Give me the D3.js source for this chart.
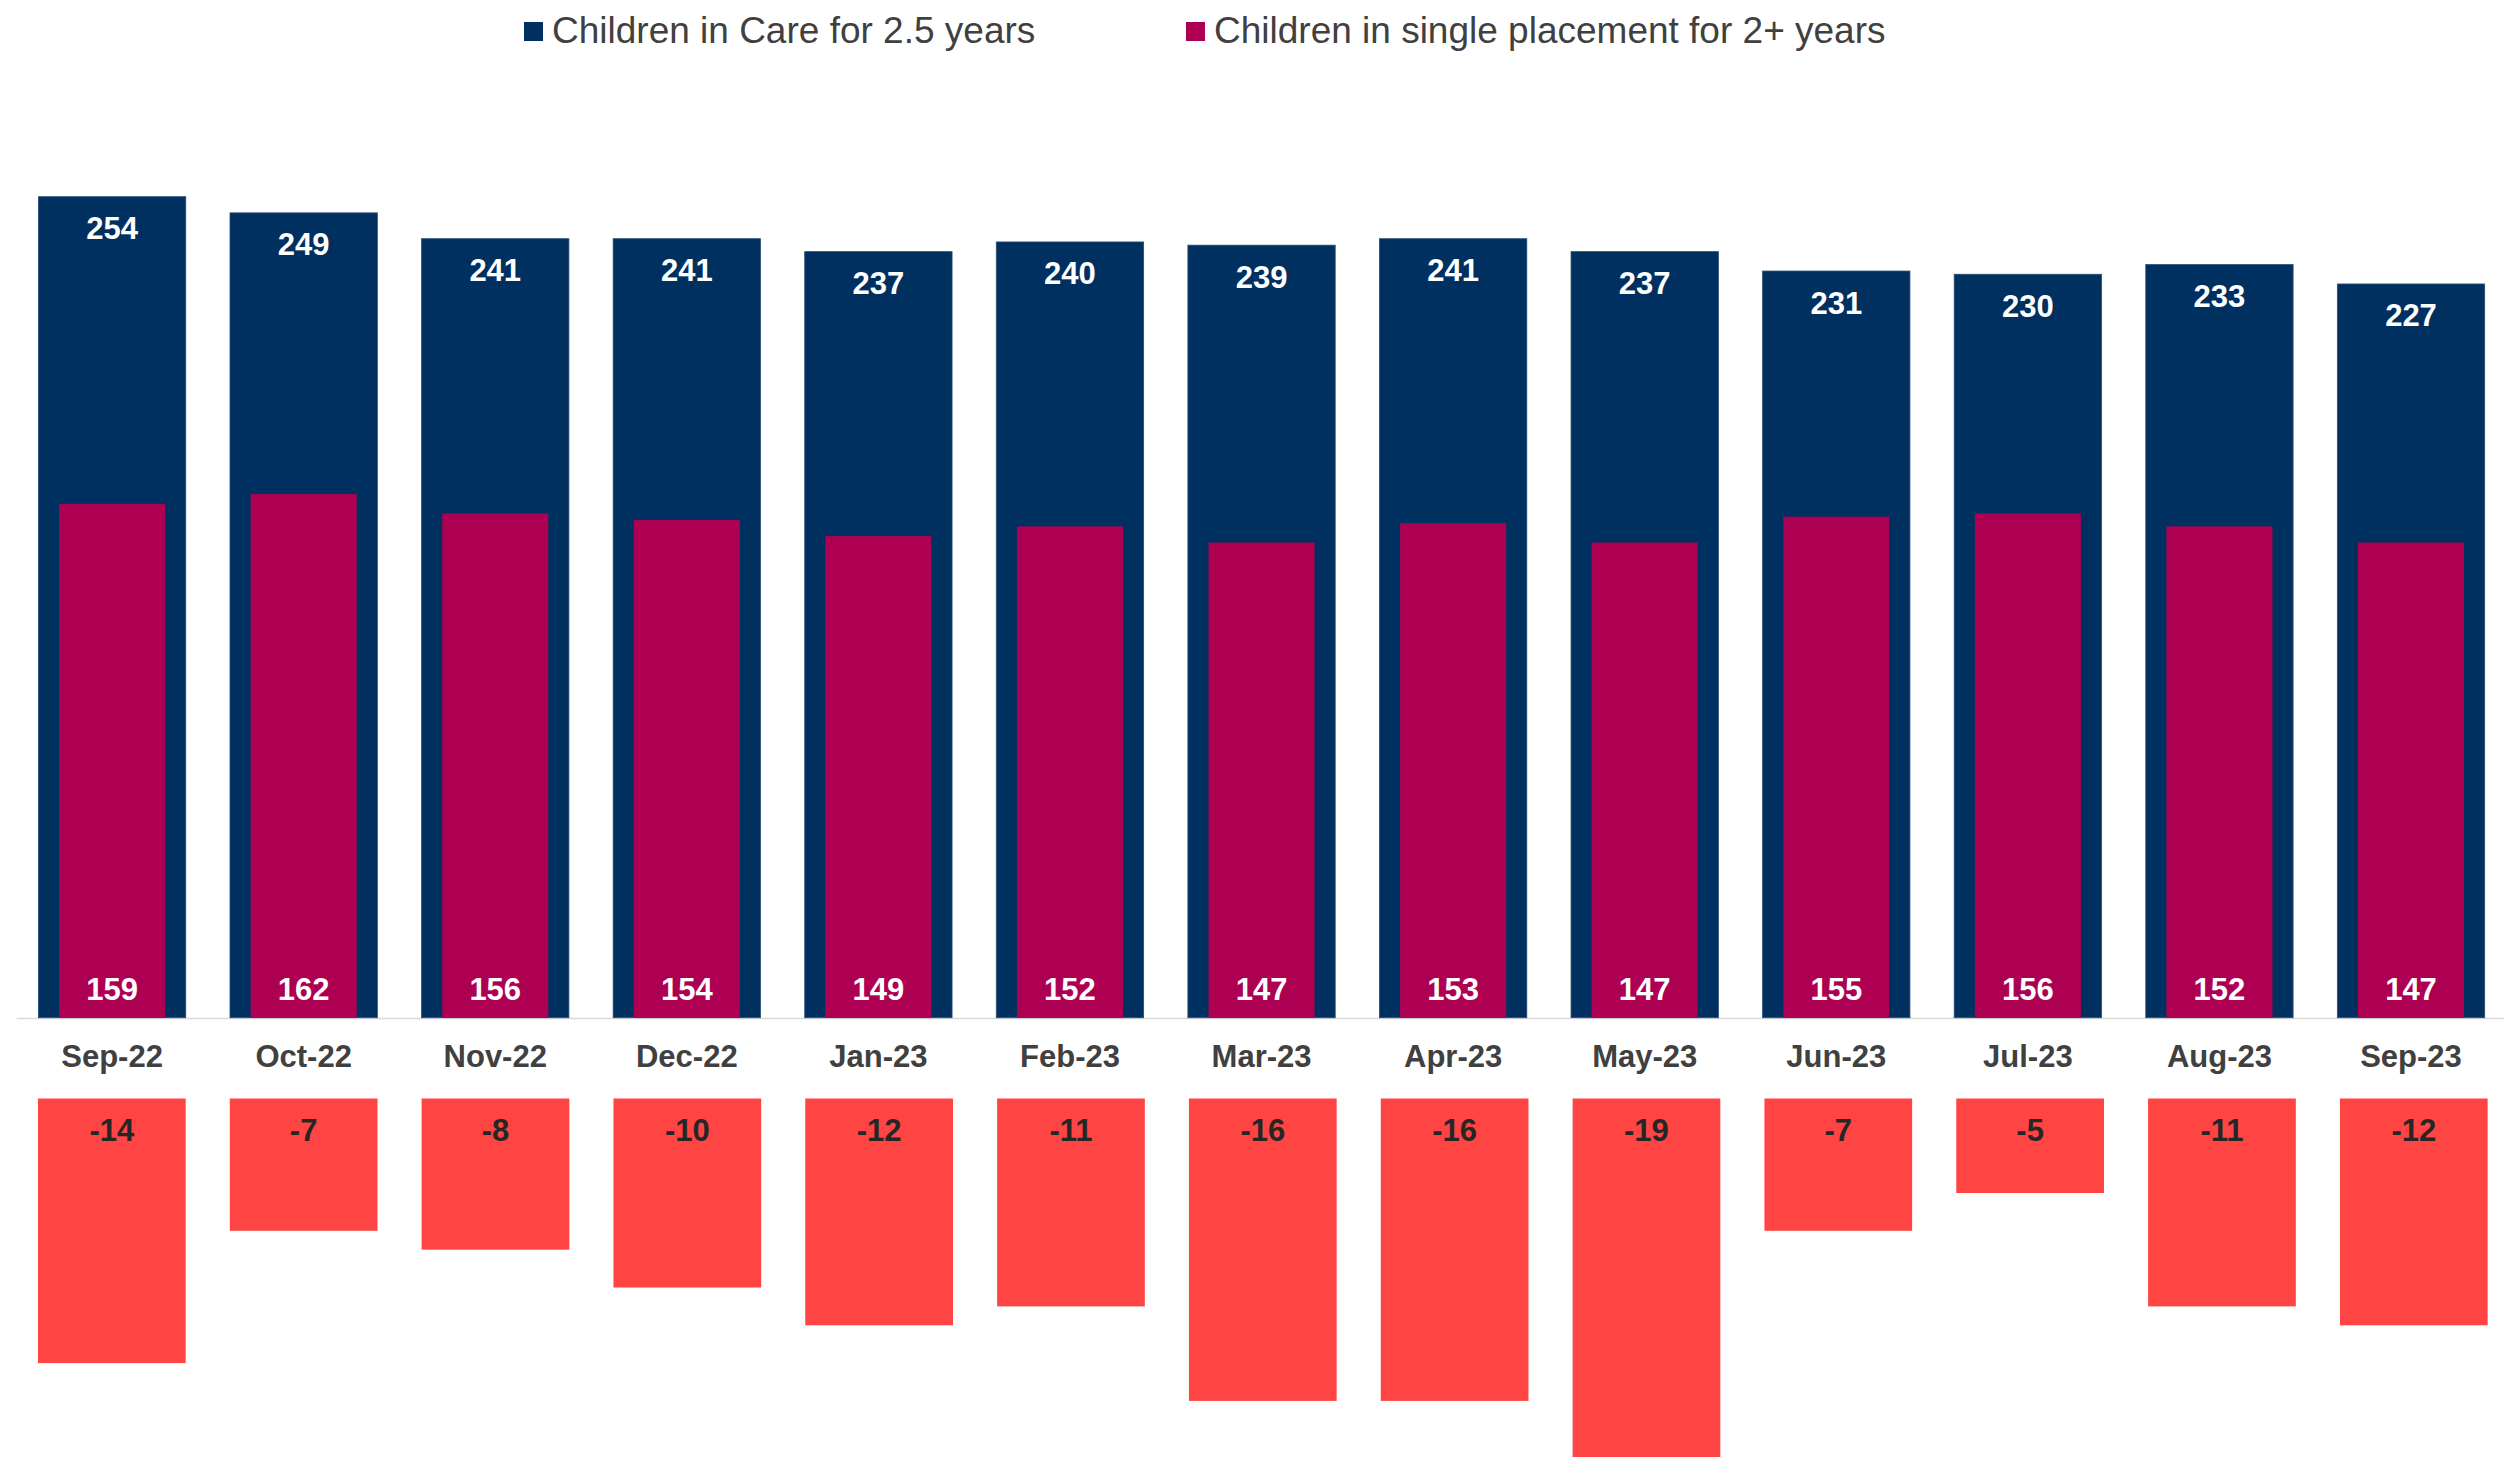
<!DOCTYPE html>
<html>
<head>
<meta charset="utf-8">
<script src="https://cdn.jsdelivr.net/npm/d3@7"></script>
<style>
  html, body { margin: 0; padding: 0; background: #ffffff; }
  svg { display: block; }
  text { font-family: "Liberation Sans", Arial, Helvetica, sans-serif; }
</style>
</head>
<body>
<script>
// ---- data ----
const categories = ["Sep-22","Oct-22","Nov-22","Dec-22","Jan-23","Feb-23","Mar-23","Apr-23","May-23","Jun-23","Jul-23","Aug-23","Sep-23"];
const inCare = [254, 249, 241, 241, 237, 240, 239, 241, 237, 231, 230, 233, 227];
const singlePlacement = [159, 162, 156, 154, 149, 152, 147, 153, 147, 155, 156, 152, 147];
const difference = [-14, -7, -8, -10, -12, -11, -16, -16, -19, -7, -5, -11, -12];
const seriesNames = ["Children in Care for 2.5 years", "Children in single placement for 2+ years"];

const W = 2504, H = 1457;
const navy = "#003060", magenta = "#AE0052", red = "#FF4444";

const svg = d3.select("body").append("svg").attr("width", W).attr("height", H);

// scales
const x = d3.scaleBand().domain(categories).range([16.3, 2506.8]).paddingInner(0.231).paddingOuter(0.1155);
const xNeg = d3.scaleBand().domain(categories).range([15.9, 2509.7]).paddingInner(0.23).paddingOuter(0.115);
const y = d3.scaleLinear().domain([0, 254]).range([1017.7, 196.7]);
const yNeg = d3.scaleLinear().domain([-19, 0]).range([1457.6, 1098.5]);

const innerW = x.bandwidth() * 0.72;

// axis
const axis = d3.axisBottom(x).tickSize(0).tickPadding(27);
const gAxis = svg.append("g").attr("transform", "translate(0,1018)").call(axis);
gAxis.select(".domain").attr("stroke", "#d9d9d9").attr("stroke-width", 1.6);
gAxis.selectAll(".tick text")
  .attr("font-size", 31).attr("font-weight", "bold").attr("fill", "#404040")
  .style("font-family", '"Liberation Sans", Arial, sans-serif');

// navy bars
svg.append("g").selectAll("rect").data(categories).join("rect")
  .attr("x", d => x(d)).attr("width", x.bandwidth())
  .attr("y", (d, i) => y(inCare[i])).attr("height", (d, i) => y(0) - y(inCare[i]))
  .attr("fill", navy).attr("stroke", "#264b73").attr("stroke-width", 0.8);

// magenta bars
svg.append("g").selectAll("rect").data(categories).join("rect")
  .attr("x", d => x(d) + (x.bandwidth() - innerW) / 2).attr("width", innerW)
  .attr("y", (d, i) => y(singlePlacement[i])).attr("height", (d, i) => y(0) - y(singlePlacement[i]))
  .attr("fill", magenta);

// red bars
svg.append("g").selectAll("rect").data(categories).join("rect")
  .attr("x", d => xNeg(d)).attr("width", xNeg.bandwidth())
  .attr("y", yNeg(0)).attr("height", (d, i) => yNeg(difference[i]) - yNeg(0))
  .attr("fill", red);

// labels
svg.append("g").selectAll("text").data(categories).join("text")
  .attr("x", d => x(d) + x.bandwidth() / 2)
  .attr("y", (d, i) => y(inCare[i]) + 42.5)
  .attr("text-anchor", "middle").attr("font-size", 31).attr("font-weight", "bold").attr("fill", "#ffffff")
  .text((d, i) => inCare[i]);

svg.append("g").selectAll("text").data(categories).join("text")
  .attr("x", d => x(d) + x.bandwidth() / 2)
  .attr("y", y(0) - 17.7)
  .attr("text-anchor", "middle").attr("font-size", 31).attr("font-weight", "bold").attr("fill", "#ffffff")
  .text((d, i) => singlePlacement[i]);

svg.append("g").selectAll("text").data(categories).join("text")
  .attr("x", d => xNeg(d) + xNeg.bandwidth() / 2)
  .attr("y", yNeg(0) + 42)
  .attr("text-anchor", "middle").attr("font-size", 31).attr("font-weight", "bold").attr("fill", "#262626")
  .text((d, i) => difference[i]);

// legend
const legendItems = [
  { name: seriesNames[0], color: navy, x: 524 },
  { name: seriesNames[1], color: magenta, x: 1186 }
];
const lg = svg.append("g");
legendItems.forEach(it => {
  lg.append("rect").attr("x", it.x).attr("y", 22).attr("width", 19).attr("height", 19).attr("fill", it.color);
  lg.append("text").attr("x", it.x + 28).attr("y", 43.3)
    .attr("font-size", 37).attr("fill", "#404040").text(it.name);
});
</script>
</body>
</html>
